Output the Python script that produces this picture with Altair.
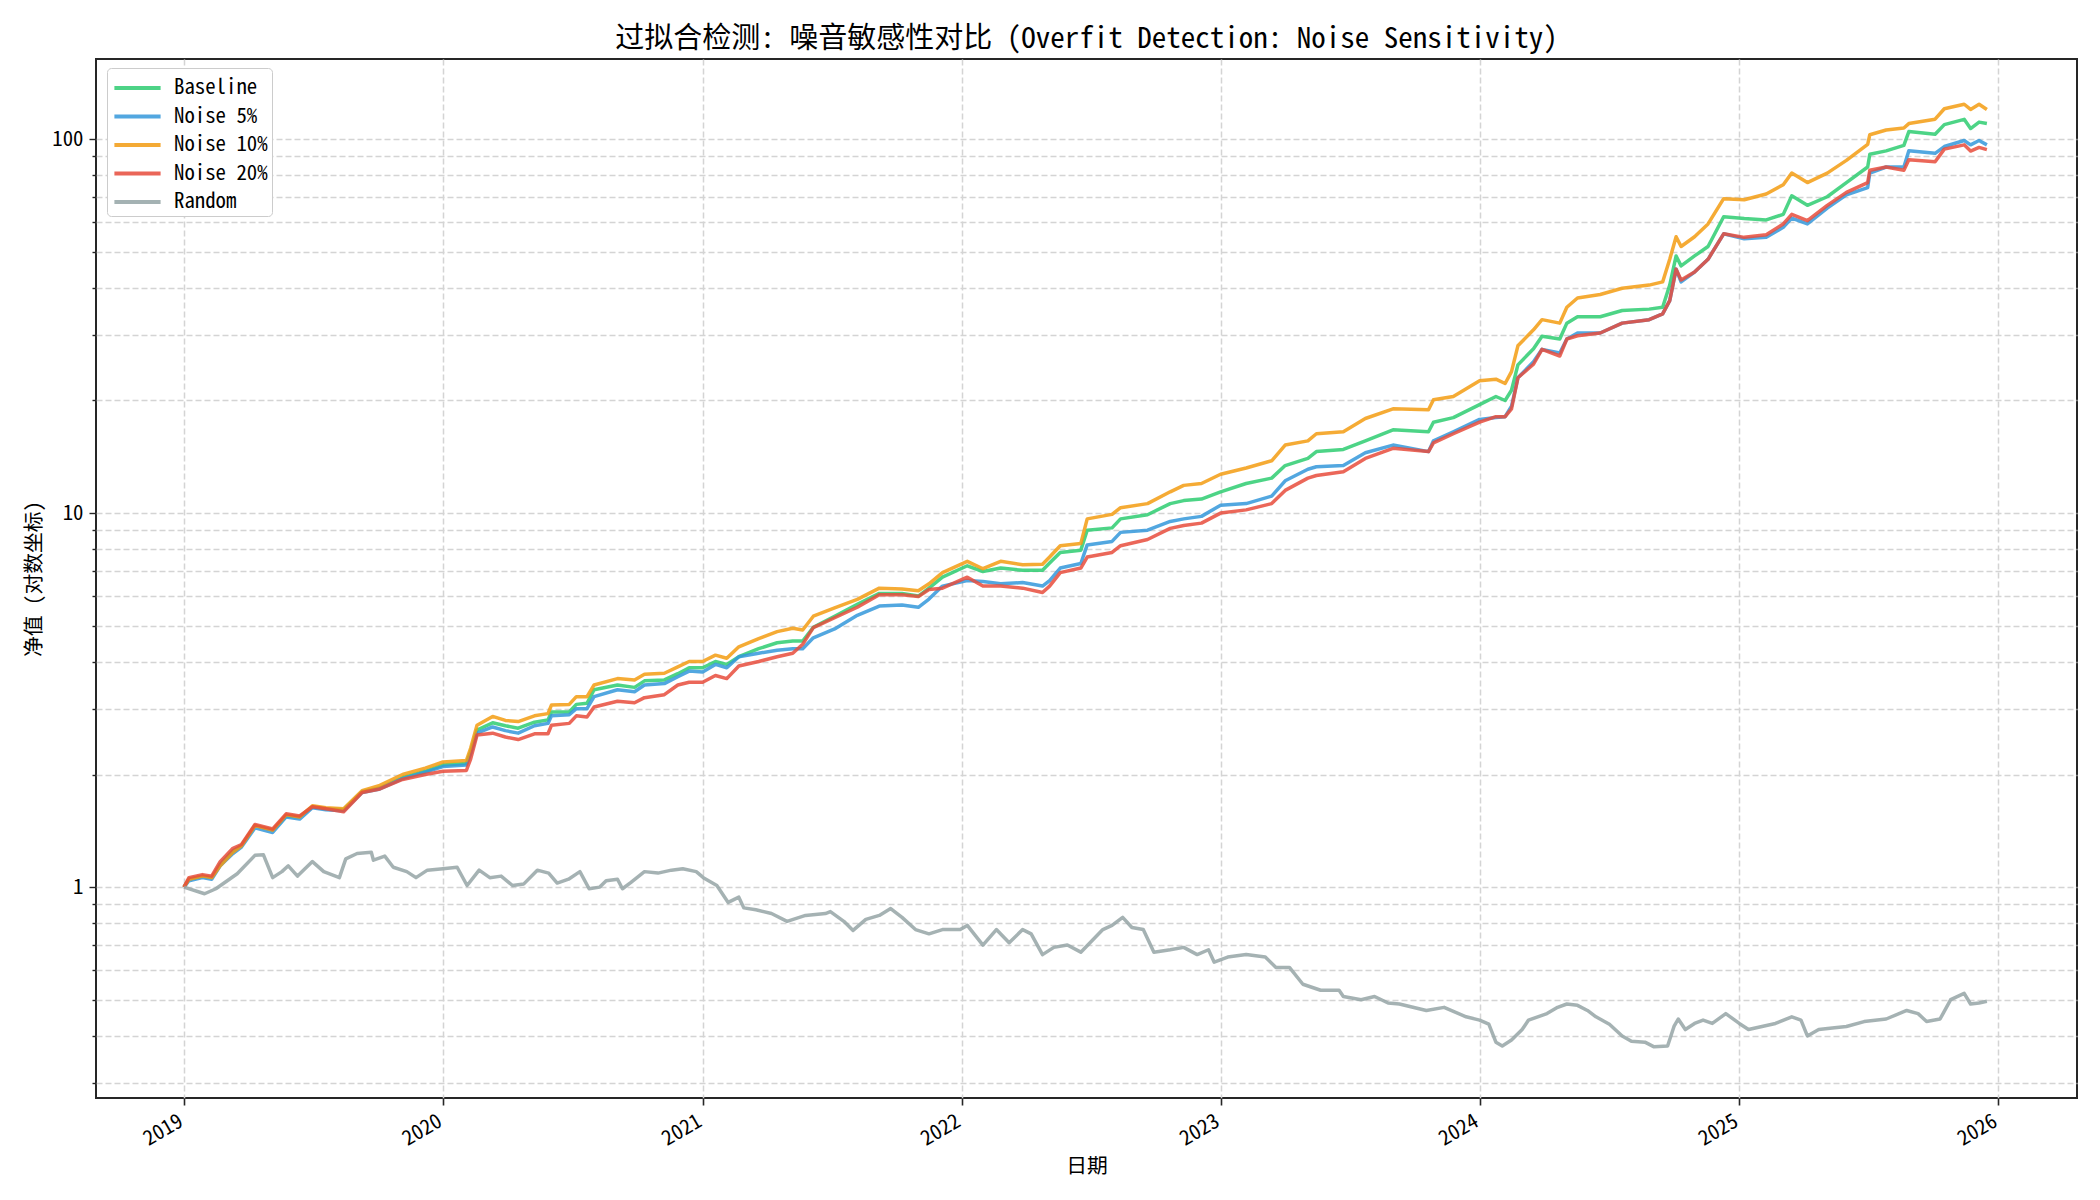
import altair as alt
import pandas as pd

FONT = "'Noto Sans Mono CJK SC', 'Noto Sans CJK SC', sans-serif"

# ---------------- data ----------------
main_dates = [
    "2019-01-01", "2019-01-08", "2019-01-27", "2019-02-09", "2019-02-21", "2019-03-11", "2019-03-23",
    "2019-04-11", "2019-05-06", "2019-05-25", "2019-06-13", "2019-07-01", "2019-07-20", "2019-08-14",
    "2019-09-09", "2019-10-04", "2019-11-05", "2019-12-07", "2020-01-01", "2020-02-03", "2020-02-09",
    "2020-02-18", "2020-03-11", "2020-03-29", "2020-04-16", "2020-05-09", "2020-05-28", "2020-06-02",
    "2020-06-27", "2020-07-07", "2020-07-22", "2020-08-01", "2020-09-03", "2020-09-27", "2020-10-11",
    "2020-11-08", "2020-11-27", "2020-12-13", "2021-01-01", "2021-01-19", "2021-02-04", "2021-02-21",
    "2021-03-21", "2021-04-16", "2021-05-08", "2021-05-22", "2021-06-06", "2021-07-06", "2021-08-07",
    "2021-09-07", "2021-10-09", "2021-11-01", "2021-11-16", "2021-12-05", "2022-01-09", "2022-01-31",
    "2022-02-25", "2022-03-28", "2022-04-25", "2022-05-05", "2022-05-20", "2022-06-18", "2022-06-27",
    "2022-08-01", "2022-08-13", "2022-09-20", "2022-10-22", "2022-11-10", "2022-12-05", "2023-01-01",
    "2023-02-06", "2023-03-14", "2023-04-02", "2023-05-04", "2023-05-16", "2023-06-23", "2023-07-24",
    "2023-09-01", "2023-10-21", "2023-10-28", "2023-11-25", "2024-01-01", "2024-01-24", "2024-02-06",
    "2024-02-15", "2024-02-24", "2024-03-17", "2024-03-29", "2024-04-23", "2024-05-03", "2024-05-18",
    "2024-06-19", "2024-07-20", "2024-08-27", "2024-09-15", "2024-09-25", "2024-10-04", "2024-10-11",
    "2024-10-30", "2024-11-18", "2024-12-10", "2025-01-08", "2025-02-08", "2025-03-04", "2025-03-16",
    "2025-04-07", "2025-05-05", "2025-06-01", "2025-07-01", "2025-07-04", "2025-07-27", "2025-08-21",
    "2025-08-28", "2025-10-04", "2025-10-17", "2025-11-14", "2025-11-23", "2025-12-05", "2025-12-16",
]

noise10 = [
    1.0, 1.05, 1.07, 1.06, 1.14, 1.24, 1.29, 1.46, 1.42, 1.56, 1.54, 1.65, 1.63, 1.62, 1.81, 1.87, 2.00,
    2.08, 2.16, 2.18, 2.35, 2.71, 2.86, 2.79, 2.77, 2.87, 2.91, 3.07, 3.08, 3.23, 3.23, 3.47, 3.61, 3.58,
    3.71, 3.73, 3.88, 4.01, 4.01, 4.17, 4.09, 4.39, 4.62, 4.82, 4.92, 4.87, 5.30, 5.58, 5.88, 6.30, 6.27,
    6.20, 6.47, 6.93, 7.43, 7.10, 7.43, 7.28, 7.30, 7.63, 8.18, 8.29, 9.65, 9.92, 10.34, 10.6, 11.4, 11.86,
    12.0, 12.7, 13.2, 13.8, 15.2, 15.6, 16.3, 16.5, 17.9, 19.0, 18.9, 20.1, 20.5, 22.6, 22.8, 22.2, 23.9,
    28.0, 30.9, 32.9, 32.2, 35.5, 37.6, 38.4, 39.9, 40.7, 41.5, 47.7, 54.8, 51.6, 54.8, 59.3, 69.3, 68.8,
    71.3, 75.5, 81.1, 76.5, 81.1, 87.7, 96.8, 102.7, 105.7, 107.0, 110.0, 113.0, 120.5, 123.9, 120.0,
    123.9, 120.0,
]

baseline = [
    1.0, 1.05, 1.07, 1.06, 1.15, 1.25, 1.29, 1.46, 1.42, 1.55, 1.54, 1.64, 1.62, 1.61, 1.80, 1.84, 1.96,
    2.04, 2.12, 2.14, 2.30, 2.63, 2.75, 2.70, 2.66, 2.76, 2.80, 2.94, 2.94, 3.08, 3.10, 3.37, 3.47, 3.42,
    3.56, 3.58, 3.72, 3.86, 3.86, 4.01, 3.94, 4.13, 4.34, 4.50, 4.55, 4.55, 4.95, 5.30, 5.70, 6.10, 6.10,
    6.00, 6.30, 6.74, 7.23, 6.98, 7.13, 7.03, 7.03, 7.35, 7.85, 7.96, 9.00, 9.13, 9.65, 9.9, 10.6, 10.8,
    10.9, 11.4, 12.0, 12.4, 13.4, 14.0, 14.6, 14.8, 15.6, 16.7, 16.5, 17.5, 18.0, 19.5, 20.5, 20.0, 21.3,
    24.9, 27.5, 29.7, 29.2, 32.2, 33.5, 33.5, 34.8, 35.1, 35.5, 40.7, 48.7, 45.8, 48.7, 51.6, 62.0, 61.3,
    60.8, 62.9, 70.5, 66.5, 70.1, 76.5, 84.2, 91.1, 93.0, 96.2, 104.7, 103.0, 109.3, 112.9, 106.7,
    111.0, 110.0,
]

noise5 = [
    1.0, 1.04, 1.06, 1.05, 1.14, 1.23, 1.28, 1.44, 1.40, 1.54, 1.52, 1.63, 1.61, 1.60, 1.79, 1.83, 1.95,
    2.03, 2.10, 2.12, 2.27, 2.58, 2.68, 2.62, 2.58, 2.70, 2.74, 2.87, 2.89, 3.00, 3.00, 3.23, 3.37, 3.33,
    3.47, 3.50, 3.65, 3.78, 3.76, 3.94, 3.86, 4.13, 4.22, 4.30, 4.34, 4.34, 4.64, 4.90, 5.33, 5.64, 5.68,
    5.60, 5.89, 6.38, 6.60, 6.56, 6.47, 6.52, 6.38, 6.60, 7.13, 7.33, 8.22, 8.40, 8.88, 9.0, 9.5, 9.65,
    9.8, 10.5, 10.6, 11.1, 12.2, 13.1, 13.3, 13.4, 14.5, 15.2, 14.6, 15.6, 16.5, 17.8, 18.0, 18.1, 19.3,
    23.0, 25.4, 27.4, 26.8, 29.2, 30.3, 30.3, 32.2, 32.9, 34.1, 37.0, 44.9, 41.5, 44.1, 47.7, 55.8, 54.1,
    54.6, 58.1, 61.5, 59.3, 65.4, 70.9, 74.2, 81.1, 84.2, 84.2, 93.0, 91.6, 95.5, 99.1, 96.5,
    99.1, 96.5,
]

noise20 = [
    1.0, 1.06, 1.08, 1.07, 1.17, 1.27, 1.30, 1.47, 1.43, 1.57, 1.55, 1.64, 1.62, 1.59, 1.79, 1.83, 1.94,
    2.00, 2.04, 2.05, 2.20, 2.55, 2.58, 2.52, 2.48, 2.57, 2.57, 2.71, 2.74, 2.87, 2.85, 3.03, 3.14, 3.11,
    3.21, 3.27, 3.47, 3.53, 3.53, 3.68, 3.61, 3.90, 4.01, 4.13, 4.22, 4.46, 4.94, 5.25, 5.60, 6.05, 6.05,
    5.98, 6.25, 6.30, 6.74, 6.38, 6.38, 6.30, 6.13, 6.38, 6.93, 7.13, 7.63, 7.85, 8.18, 8.5, 9.1, 9.26,
    9.4, 10.0, 10.2, 10.6, 11.5, 12.4, 12.6, 12.9, 14.0, 14.9, 14.6, 15.4, 16.3, 17.5, 18.1, 18.1, 19.0,
    23.0, 25.0, 27.4, 26.3, 29.2, 29.8, 30.3, 32.2, 32.9, 34.1, 37.0, 44.9, 42.0, 44.1, 47.7, 55.8, 54.6,
    55.5, 59.3, 62.9, 60.5, 66.5, 72.0, 76.5, 82.5, 84.2, 82.5, 88.0, 87.0, 94.0, 96.5, 92.9,
    95.0, 93.7,
]

random_dates = [
    "2019-01-01", "2019-01-30", "2019-02-15", "2019-03-17", "2019-04-11", "2019-04-23", "2019-05-06",
    "2019-05-19", "2019-05-28", "2019-06-10", "2019-07-01", "2019-07-17", "2019-08-08", "2019-08-17",
    "2019-09-02", "2019-09-22", "2019-09-25", "2019-10-11", "2019-10-23", "2019-11-11", "2019-11-24",
    "2019-12-10", "2020-01-01", "2020-01-21", "2020-02-04", "2020-02-21", "2020-03-07", "2020-03-23",
    "2020-04-08", "2020-04-24", "2020-05-13", "2020-05-29", "2020-06-10", "2020-06-26", "2020-07-12",
    "2020-07-25", "2020-08-09", "2020-08-18", "2020-09-03", "2020-09-10", "2020-09-22", "2020-10-11",
    "2020-10-30", "2020-11-18", "2020-12-04", "2020-12-23", "2021-01-02", "2021-01-21", "2021-02-06",
    "2021-02-21", "2021-02-28", "2021-03-17", "2021-04-08", "2021-04-30", "2021-05-26", "2021-06-23",
    "2021-06-30", "2021-07-19", "2021-08-01", "2021-08-19", "2021-09-07", "2021-09-23", "2021-10-09",
    "2021-10-28", "2021-11-16", "2021-12-05", "2021-12-30", "2022-01-09", "2022-01-31", "2022-02-19",
    "2022-03-09", "2022-03-28", "2022-04-09", "2022-04-25", "2022-05-11", "2022-05-30", "2022-06-18",
    "2022-07-19", "2022-08-01", "2022-08-16", "2022-08-29", "2022-09-14", "2022-09-29", "2022-10-22",
    "2022-11-10", "2022-11-29", "2022-12-15", "2022-12-23", "2023-01-11", "2023-02-06", "2023-03-05",
    "2023-03-20", "2023-04-08", "2023-04-27", "2023-05-22", "2023-06-17", "2023-06-23", "2023-07-18",
    "2023-08-06", "2023-08-25", "2023-09-10", "2023-10-18", "2023-11-12", "2023-12-13", "2024-01-01",
    "2024-01-14", "2024-01-24", "2024-02-02", "2024-02-15", "2024-03-01", "2024-03-10", "2024-03-23",
    "2024-04-05", "2024-04-20", "2024-05-03", "2024-05-18", "2024-06-01", "2024-06-13", "2024-07-02",
    "2024-07-20", "2024-08-02", "2024-08-21", "2024-09-03", "2024-09-22", "2024-10-01", "2024-10-07",
    "2024-10-17", "2024-10-30", "2024-11-11", "2024-11-24", "2024-12-13", "2025-01-01", "2025-01-14",
    "2025-02-02", "2025-02-21", "2025-03-16", "2025-03-29", "2025-04-07", "2025-04-23", "2025-05-12",
    "2025-06-01", "2025-06-26", "2025-07-27", "2025-08-25", "2025-09-10", "2025-09-22", "2025-10-11",
    "2025-10-26", "2025-11-14", "2025-11-23", "2025-12-05", "2025-12-16",
]

random_values = [
    1.0, 0.96, 0.99, 1.086, 1.216, 1.22, 1.06, 1.10, 1.14, 1.07, 1.17, 1.10, 1.06, 1.19, 1.23, 1.24,
    1.18, 1.21, 1.13, 1.10, 1.06, 1.11, 1.12, 1.13, 1.01, 1.11, 1.06, 1.07, 1.01, 1.02, 1.11, 1.09,
    1.025, 1.05, 1.10, 0.99, 1.0, 1.04, 1.05, 0.99, 1.03, 1.10, 1.09, 1.11, 1.12, 1.10, 1.06, 1.01,
    0.91, 0.94, 0.88, 0.87, 0.85, 0.81, 0.84, 0.85, 0.86, 0.81, 0.766, 0.82, 0.84, 0.876, 0.83, 0.77,
    0.75, 0.77, 0.77, 0.79, 0.70, 0.77, 0.71, 0.77, 0.75, 0.66, 0.69, 0.70, 0.67, 0.77, 0.79, 0.83,
    0.78, 0.77, 0.67, 0.68, 0.69, 0.66, 0.68, 0.63, 0.65, 0.66, 0.65, 0.61, 0.61, 0.55, 0.53, 0.53,
    0.51, 0.50, 0.51, 0.49, 0.487, 0.468, 0.477, 0.45, 0.441, 0.43, 0.385, 0.376, 0.39, 0.416, 0.441,
    0.45, 0.459, 0.477, 0.487, 0.483, 0.468, 0.45, 0.43, 0.40, 0.387, 0.385, 0.374, 0.376, 0.424,
    0.444, 0.416, 0.432, 0.441, 0.432, 0.459, 0.432, 0.416, 0.424, 0.432, 0.45, 0.441, 0.40, 0.416,
    0.42, 0.424, 0.437, 0.444, 0.468, 0.459, 0.437, 0.444, 0.50, 0.52, 0.487, 0.49, 0.495,
]

series_names = ["Baseline", "Noise 5%", "Noise 10%", "Noise 20%", "Random"]
series_colors = ["#2ecc71", "#3498db", "#f39c12", "#e74c3c", "#95a5a6"]

y_ticks = [0.3, 0.4, 0.5, 0.6, 0.7, 0.8, 0.9, 1, 2, 3, 4, 5, 6, 7, 8, 9, 10,
           20, 30, 40, 50, 60, 70, 80, 90, 100]
x_years = [2019, 2020, 2021, 2022, 2023, 2024, 2025, 2026]

# ---------------- build table ----------------
rows = []
for name, vals in zip(series_names[:4], [baseline, noise5, noise10, noise20]):
    for d, v in zip(main_dates, vals):
        rows.append({"date": d, "value": v, "series": name})
for d, v in zip(random_dates, random_values):
    rows.append({"date": d, "value": v, "series": "Random"})
df = pd.DataFrame(rows)

x_enc = alt.X(
    "date:T",
    title="日期",
    scale=alt.Scale(
        type="utc",
        domain=[alt.DateTime(year=2018, month=8, date=30, utc=True),
                alt.DateTime(year=2026, month=4, date=22, utc=True)],
        nice=False,
    ),
    axis=alt.Axis(
        values=[alt.DateTime(year=yy, month=1, date=1, utc=True) for yy in x_years],
        format="%Y",
        labelAngle=-30,
        labelAlign="right",
        labelBaseline="top",
        labelPadding=6,
        labelOffset=-8,
        labelFont=FONT,
        labelFontSize=20.8,
        labelColor="black",
        labelFlush=False,
        labelOverlap=False,
        tickSize=7,
        tickWidth=1.6,
        tickColor="#262626",
        domain=False,
        grid=True,
        gridDash=[6, 3],
        gridColor="#d4d4d4",
        gridWidth=1.5,
        titleFont=FONT,
        titleFontSize=20.8,
        titleFontWeight="normal",
        titleColor="black",
        titleBaseline="middle",
        titleY=68,
    ),
)

major_test = "datum.value == 1 || datum.value == 10 || datum.value == 100"
y_enc = alt.Y(
    "value:Q",
    title="净值 (对数坐标)",
    scale=alt.Scale(type="log", domain=[0.273, 163.7], nice=False),
    axis=alt.Axis(
        values=y_ticks,
        labelExpr="datum.value == 1 ? '1' : datum.value == 10 ? '10' : datum.value == 100 ? '100' : ''",
        labelFont=FONT,
        labelFontSize=20.8,
        labelColor="black",
        labelPadding=6,
        labelFlush=False,
        labelOverlap=False,
        tickSize={"condition": {"test": major_test, "value": 7}, "value": 4},
        tickWidth=1.4,
        tickColor="#262626",
        domain=False,
        grid=True,
        gridDash=[6, 3],
        gridColor="#d4d4d4",
        gridWidth=1.5,
        titleFont=FONT,
        titleFontSize=20.8,
        titleFontWeight="normal",
        titleColor="black",
        titleBaseline="middle",
        titleX=-62,
    ),
)

color_enc = alt.Color(
    "series:N",
    scale=alt.Scale(domain=series_names, range=series_colors),
    legend=alt.Legend(
        title=None,
        orient="none",
        legendX=11,
        legendY=9,
        symbolType="M -0.9 0 L 2.4 0",
        symbolStrokeWidth=4,
        symbolSize=784,
        symbolOpacity=0.85,
        labelFont=FONT,
        labelFontSize=20.8,
        labelColor="black",
        labelOffset=31,
        rowPadding=2.5,
        padding=4,
        strokeColor="#cccccc",
        fillColor="white",
        cornerRadius=4,
    ),
)

layers = [
    alt.Chart(df)
    .transform_filter(alt.datum.series == name)
    .mark_line(strokeWidth=3.5, opacity=0.85, strokeJoin="round")
    .encode(x=x_enc, y=y_enc, color=color_enc)
    for name in series_names
]

chart = (
    alt.layer(*layers)
    .properties(
        width=1981,
        height=1039,
        autosize=alt.AutoSizeParams(type="none"),
        padding={"left": 96, "top": 59, "right": 23, "bottom": 102},
        title=alt.TitleParams(
            text="过拟合检测: 噪音敏感性对比 (Overfit Detection: Noise Sensitivity)",
            font=FONT,
            fontSize=29,
            fontWeight="normal",
            color="black",
            anchor="middle",
            offset=5,
        ),
        background="white",
    )
    .configure_view(stroke="#262626", strokeWidth=2)
)

chart.save("out.html", embed_options={"renderer": "svg", "actions": False})
